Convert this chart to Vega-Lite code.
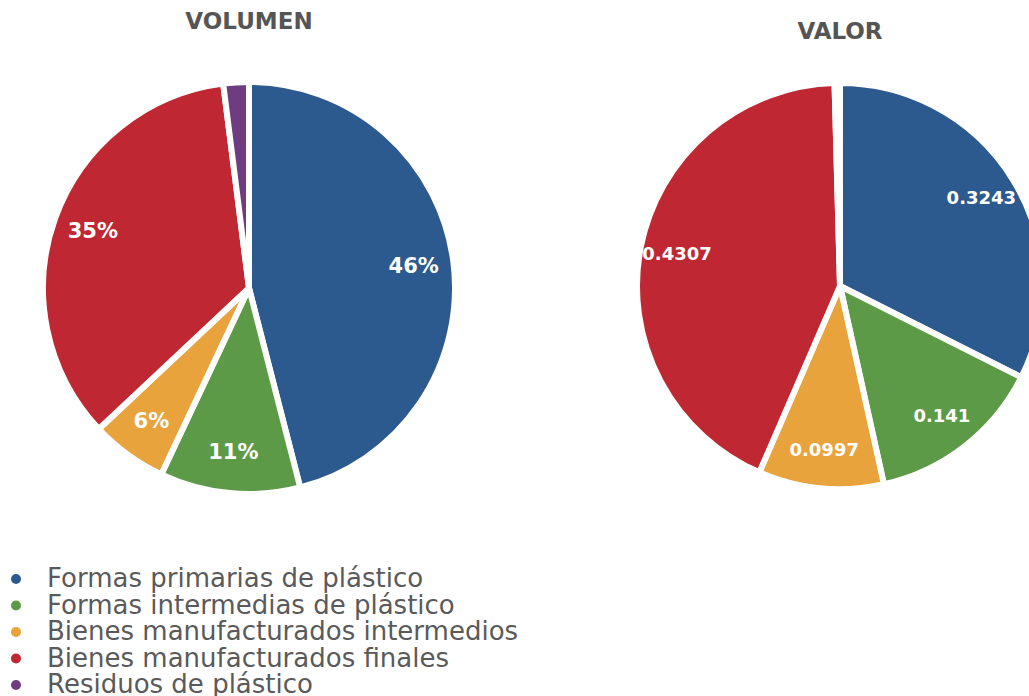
{
  "$schema": "https://vega.github.io/schema/vega-lite/v6.json",
  "background": "white",
  "padding": {"top": 11, "left": 0, "right": 0, "bottom": 0},
  "spacing": 153,
  "bounds": "flush",
  "datasets": {
    "d": [
      {"medida": "VOLUMEN", "cat": "Formas primarias de plástico", "orden": 1, "v": 0.46},
      {"medida": "VOLUMEN", "cat": "Formas intermedias de plástico", "orden": 2, "v": 0.11},
      {"medida": "VOLUMEN", "cat": "Bienes manufacturados intermedios", "orden": 3, "v": 0.06},
      {"medida": "VOLUMEN", "cat": "Bienes manufacturados finales", "orden": 4, "v": 0.35},
      {"medida": "VOLUMEN", "cat": "Residuos de plástico", "orden": 5, "v": 0.02},
      {"medida": "VALOR", "cat": "Formas primarias de plástico", "orden": 1, "v": 0.3243},
      {"medida": "VALOR", "cat": "Formas intermedias de plástico", "orden": 2, "v": 0.141},
      {"medida": "VALOR", "cat": "Bienes manufacturados intermedios", "orden": 3, "v": 0.0997},
      {"medida": "VALOR", "cat": "Bienes manufacturados finales", "orden": 4, "v": 0.4307},
      {"medida": "VALOR", "cat": "Residuos de plástico", "orden": 5, "v": 0.0043}
    ]
  },
  "data": {"name": "d"},
  "hconcat": [
    {
      "width": 498,
      "height": 442,
      "title": {"text": "VOLUMEN", "offset": 33},
      "transform": [{"filter": "datum.medida === 'VOLUMEN'"}],
      "encoding": {
        "theta": {"field": "v", "type": "quantitative", "stack": true},
        "order": {"field": "orden", "type": "quantitative"}
      },
      "layer": [
        {
          "mark": {"type": "arc", "outerRadius": 206, "stroke": "white", "strokeWidth": 6},
          "encoding": {
            "color": {
              "field": "cat",
              "type": "nominal",
              "scale": {
                "domain": ["Formas primarias de plástico", "Formas intermedias de plástico", "Bienes manufacturados intermedios", "Bienes manufacturados finales", "Residuos de plástico"],
                "range": ["#2c5a8e", "#5d9a48", "#e8a33d", "#bf2832", "#6f3c7f"]
              },
              "legend": {"orient": "none", "legendX": 3, "legendY": 499, "title": null}
            }
          }
        },
        {
          "mark": {"type": "text", "radius": 166, "fill": "white", "font": "DejaVu Sans", "fontWeight": "bold", "fontSize": 21},
          "encoding": {
            "text": {"field": "v", "type": "quantitative", "format": ".0%", "condition": {"test": "datum.orden === 5", "value": ""}}
          }
        }
      ]
    },
    {
      "width": 378,
      "height": 438,
      "title": {"text": "VALOR", "offset": 23},
      "transform": [{"filter": "datum.medida === 'VALOR'"}],
      "encoding": {
        "theta": {"field": "v", "type": "quantitative", "stack": true},
        "order": {"field": "orden", "type": "quantitative"}
      },
      "layer": [
        {
          "mark": {"type": "arc", "outerRadius": 203, "stroke": "white", "strokeWidth": 6},
          "encoding": {
            "color": {"field": "cat", "type": "nominal"}
          }
        },
        {
          "mark": {"type": "text", "radius": 166, "fill": "white", "font": "DejaVu Sans", "fontWeight": "bold", "fontSize": 18},
          "encoding": {
            "text": {"field": "v", "type": "quantitative", "format": ".4~f", "condition": {"test": "datum.orden === 5", "value": ""}}
          }
        }
      ]
    }
  ],
  "config": {
    "view": {"stroke": null},
    "title": {"font": "DejaVu Sans", "fontSize": 23, "fontWeight": "bold", "color": "#555555", "anchor": "middle"},
    "legend": {
      "labelFont": "DejaVu Sans",
      "labelFontSize": 26,
      "labelColor": "#5a5a5a",
      "labelLimit": 700,
      "labelOffset": 18,
      "symbolType": "circle",
      "symbolSize": 100,
      "symbolStrokeWidth": 0,
      "rowPadding": 0.5
    }
  }
}
